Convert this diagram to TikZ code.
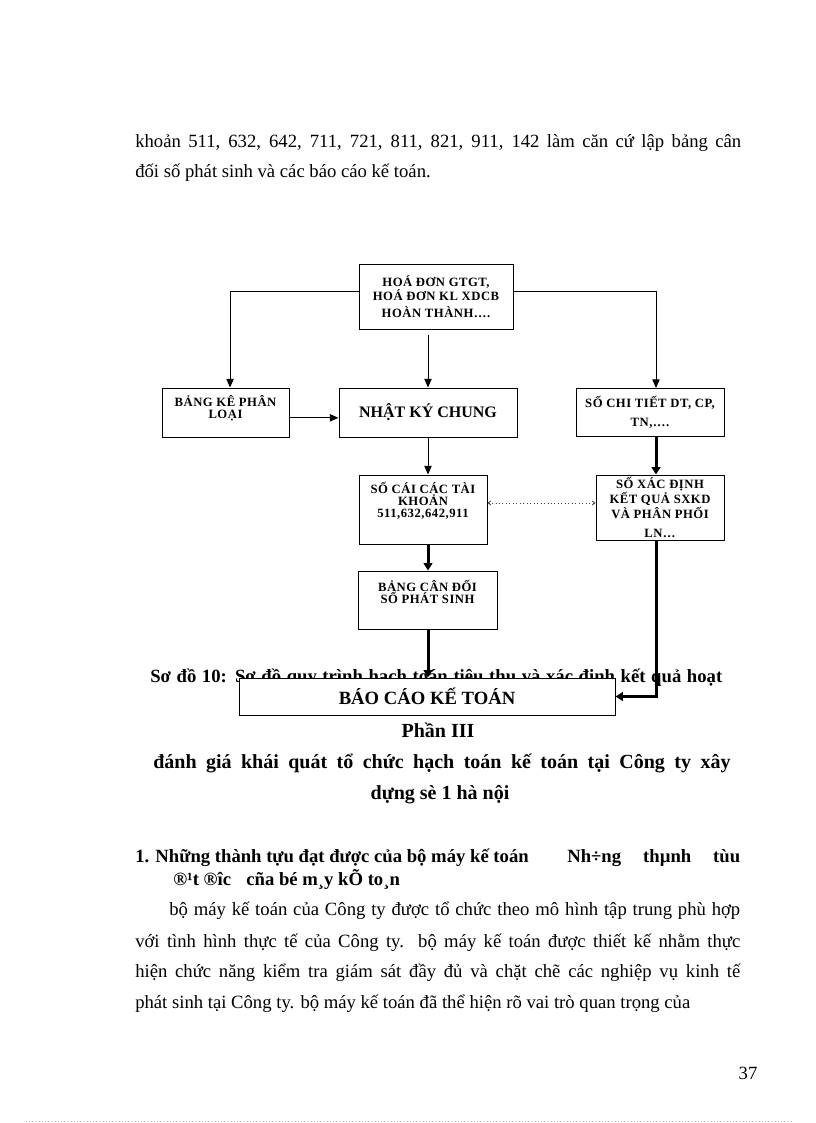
\documentclass[tikz,border=0pt]{standalone}
\usepackage{fontspec}
\setmainfont{Liberation Serif}
\newfontfamily\boxfont[LetterSpace=4]{Liberation Serif}
\usetikzlibrary{arrows.meta,calc}
\begin{document}
\begin{tikzpicture}[x=0.75pt,y=-0.75pt,
  box/.style={draw, line width=0.75pt, inner sep=0pt, fill=white},
  lbl/.style={font=\boxfont\bfseries\fontsize{9.5}{9}\selectfont, align=center, inner sep=0pt},
  arr/.style={line width=0.75pt, -{Triangle[length=6.5pt,width=5.5pt]}},
  thk/.style={line width=2.25pt, -{Triangle[length=5.5pt,width=6.5pt]}},
  dotarr/.style={dotted, line width=0.6pt, black!75, {Straight Barb[length=2pt,width=3pt]}-{Straight Barb[length=2pt,width=3pt]}},
  body/.style={anchor=base west, inner sep=0pt, font=\fontsize{14}{16}\selectfont},
  bodyb/.style={anchor=base west, inner sep=0pt, font=\bfseries\fontsize{14}{16}\selectfont},
  bodyc/.style={anchor=base, inner sep=0pt, font=\bfseries\fontsize{14}{16}\selectfont}]
\useasboundingbox (0,0) rectangle (816,1123);

% top text
\node[body] (t1) at (135,148) {\makebox[454.5pt][s]{khoản 511, 632, 642, 711, 721, 811, 821, 911, 142 làm căn cứ lập bảng cân}};
\node[body] (t2) at (135,178) {đối số phát sinh và các báo cáo kế toán.};

% boxes
\node[box, lbl, minimum width=115.5pt, minimum height=48.75pt] (hd) at (436,296.5) {HOÁ ĐƠN GTGT,\\HOÁ ĐƠN KL XDCB\\[4pt]HOÀN THÀNH….};
\node[box, lbl, minimum width=95.25pt, minimum height=36.75pt] (bk) at (225.5,412.5) {BẢNG KÊ PHÂN\\LOẠI\\\mbox{}};
\node[box, minimum width=133.5pt, minimum height=36.75pt, font=\bfseries\fontsize{12}{13}\selectfont] (nkc) at (428,412.5) {NHẬT KÝ CHUNG};
\node[box, lbl, minimum width=111pt, minimum height=36pt] (sct) at (650,412.5) {SỐ CHI TIẾT DT, CP,\\[5pt]TN,….};
\node[box, minimum width=96pt, minimum height=51.75pt] (sc) at (423,509.5) {};
\node[lbl] (sctext) at (423,501) {SỐ CÁI CÁC TÀI\\KHOẢN\\511,632,642,911};
\node[box, lbl, minimum width=96pt, minimum height=48.75pt] (sxd) at (660,507.5) {SỐ XÁC ĐỊNH\\KẾT QUẢ SXKD\\VÀ PHÂN PHỐI\\[5pt]LN…};
\node[box, minimum width=104.25pt, minimum height=43.5pt] (bcd) at (427.5,600) {};
\node[lbl] (bcdtext) at (427.5,591.5) {BẢNG CÂN ĐỐI\\SỐ PHÁT SINH};

% caption partly hidden by the report box
\node[bodyb] (cap) at (150,682) {\makebox[429pt][s]{Sơ đồ 10: Sơ đồ quy trình hạch toán tiêu thụ và xác định kết quả hoạt}};
\node[box, minimum width=282pt, minimum height=27.75pt, font=\bfseries\fontsize{14}{16}\selectfont] (bc) at (427,696.5) {BÁO CÁO KẾ TOÁN};

% connectors
\draw[arr] ([yshift=3.4pt]hd.west) -| ([xshift=3.4pt]bk.north);
\draw[arr] ([yshift=3.4pt]hd.east) -| ([xshift=4.5pt]sct.north);
\draw[arr] ([yshift=-3.75pt]hd.south -| nkc.north) -- (nkc.north);
\draw[arr] ([yshift=-4pt]bk.east) -- ([yshift=-4pt]nkc.west);
\draw[arr] (nkc.south) -- (nkc.south |- sc.north);
\draw[thk] ([xshift=4.5pt]sct.south) -- ([xshift=4.5pt]sct.south |- sxd.north);
\draw[dotarr] ([yshift=4.9pt]sc.east) -- ([yshift=4.9pt]sc.east -| sxd.west);
\draw[thk] (nkc.south |- sc.south) -- (nkc.south |- bcd.north);
\draw[thk] (nkc.south |- bcd.south) -- (nkc.south |- bc.north);
\draw[thk] ([xshift=-3pt]sxd.south) |- (bc.east);

% lower text
\node[bodyc, font=\bfseries\fontsize{15}{17}\selectfont] (p3) at (438,737) {Phần III};
\node[bodyb, font=\bfseries\fontsize{15}{17}\selectfont] (h1) at (153,768) {\makebox[433pt][s]{đánh giá khái quát tổ chức hạch toán kế toán tại Công ty xây}};
\node[bodyc, font=\bfseries\fontsize{15}{17}\selectfont] (h2) at (440,799) {dựng sè 1 hà nội};
\node[bodyb] (s1) at (135,862) {\makebox[453.75pt][s]{1. Những thành tựu đạt được của bộ máy kế toán\hspace{29pt}Nh÷ng\hfill thµnh\hfill tùu}};
\node[bodyb] (s2) at (173,885) {®¹t ®îc\hspace{8pt} cña bé m¸y kÕ to¸n};
\node[body] (b1) at (169,915) {\makebox[428.25pt][s]{bộ máy kế toán của Công ty được tổ chức theo mô hình tập trung phù hợp}};
\node[body] (b2) at (135,947) {\makebox[453.75pt][s]{với tình hình thực tế của Công ty. bộ máy kế toán được thiết kế nhằm thực}};
\node[body] (b3) at (135,977) {\makebox[453.75pt][s]{hiện chức năng kiểm tra giám sát đầy đủ và chặt chẽ các nghiệp vụ kinh tế}};
\node[body] (b4) at (135,1008) {phát sinh tại Công ty. bộ máy kế toán đã thể hiện rõ vai trò quan trọng của};
\node[anchor=base, inner sep=0pt, font=\fontsize{14}{16}\selectfont] (pg) at (748,1079) {37};

% faint footer rule
\coordinate (fl) at (26,1121);
\coordinate (fr) at (791,1121);
\draw[black!30, line width=0.4pt, dotted] (fl) -- (fr);
\end{tikzpicture}
\end{document}
